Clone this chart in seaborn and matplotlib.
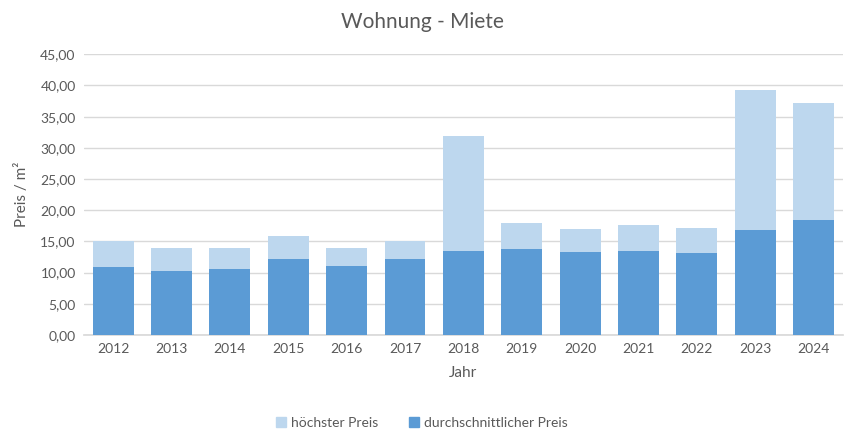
import matplotlib
matplotlib.use("Agg")
import matplotlib.pyplot as plt
import seaborn as sns
import pandas as pd
from matplotlib.ticker import FuncFormatter, MultipleLocator
from matplotlib.lines import Line2D

years = ["2012", "2013", "2014", "2015", "2016", "2017", "2018",
         "2019", "2020", "2021", "2022", "2023", "2024"]
hoechster = [15.0, 13.9, 13.9, 15.9, 13.9, 15.0, 31.9,
             18.0, 17.0, 17.6, 17.2, 39.3, 37.2]
durchschnitt = [10.9, 10.3, 10.6, 12.2, 11.1, 12.2, 13.5,
                13.8, 13.3, 13.5, 13.2, 16.8, 18.4]

df = pd.DataFrame({"Jahr": years, "max": hoechster, "avg": durchschnitt})

sns.set_theme(style="white")
plt.rcParams["font.family"] = ["Lato", "DejaVu Sans"]

light = "#BDD7EE"
dark = "#5B9BD5"
grey = "#595959"

fig = plt.figure(figsize=(8.44, 4.38), dpi=100)
ax = fig.add_axes([0.0995, 0.2352, 0.899, 0.6408])

sns.barplot(data=df, x="Jahr", y="max", order=years, color=light,
            width=0.7, saturation=1, ax=ax, zorder=2, linewidth=0)
sns.barplot(data=df, x="Jahr", y="avg", order=years, color=dark,
            width=0.7, saturation=1, ax=ax, zorder=3, linewidth=0)

ax.set_ylim(0, 45)
ax.set_xlim(-0.5, len(years) - 0.5)
ax.yaxis.set_major_locator(MultipleLocator(5))
ax.yaxis.set_major_formatter(FuncFormatter(lambda v, p: f"{v:.2f}".replace(".", ",")))
ax.grid(axis="y", color="#D9D9D9", linewidth=1, zorder=0)
ax.set_axisbelow(True)
for s in ["top", "right", "left"]:
    ax.spines[s].set_visible(False)
ax.spines["bottom"].set_color("#D9D9D9")
ax.tick_params(axis="both", length=0, labelsize=10, colors=grey, pad=6)

ax.set_xlabel("Jahr", fontsize=11, color=grey, labelpad=8)
ax.set_ylabel("Preis / m²", fontsize=11, color=grey, labelpad=8)
fig.text(0.5, 0.95, "Wohnung - Miete", ha="center", va="center",
         fontsize=15, color=grey)

handles = [Line2D([], [], marker="s", linestyle="", markersize=6.5,
                  markerfacecolor=light, markeredgecolor=light),
           Line2D([], [], marker="s", linestyle="", markersize=6.5,
                  markerfacecolor=dark, markeredgecolor=dark)]
fig.legend(handles, ["höchster Preis", "durchschnittlicher Preis"],
           loc="center", bbox_to_anchor=(0.5, 0.034), ncol=2, frameon=False,
           fontsize=10, labelcolor=grey, handlelength=0.7, handletextpad=0.4,
           columnspacing=2.2)

fig.savefig("out.png", dpi=100)
